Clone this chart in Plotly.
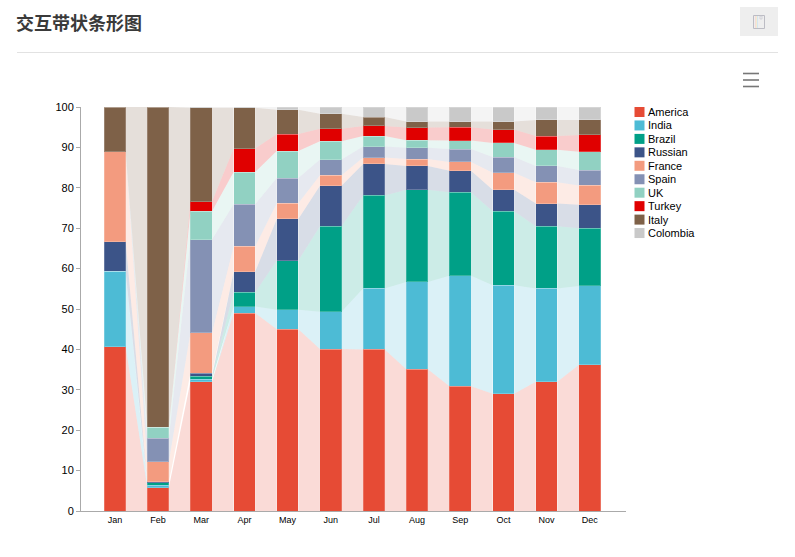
import plotly.graph_objects as go

months = ["Jan","Feb","Mar","Apr","May","Jun","Jul","Aug","Sep","Oct","Nov","Dec"]
america = [40.7,5.8,32.0,49.0,45.0,40.1,40.0,35.1,30.9,29.0,32.0,36.2]
india = [18.6,0.6,0.6,1.6,4.8,9.2,15.1,21.6,27.3,26.9,23.1,19.5]
brazil = [0,0.6,0.8,3.5,12.2,21.2,23.0,22.8,20.7,18.3,15.4,14.3]
russian = [7.4,0.2,0.7,5.1,10.3,10.0,7.8,5.9,5.3,5.3,5.6,5.8]
france = [22.2,5.0,10.0,6.3,3.9,2.6,1.6,1.7,2.2,4.2,5.3,4.8]
spain = [0,5.8,23.1,10.4,6.2,3.9,2.7,2.8,3.2,3.9,4.0,3.8]
uk = [0,2.7,7.0,8.0,6.7,4.5,2.6,1.9,2.1,3.5,4.0,4.5]
turkey = [0,0,2.4,5.8,4.2,3.1,2.5,3.1,3.3,3.3,3.4,4.2]
italy = [11.1,79.3,23.2,10.1,6.0,3.7,2.2,1.5,1.4,2.0,4.0,3.7]
colombia = [0,0,0.2,0.2,0.7,1.7,2.5,3.6,3.6,3.6,3.2,3.2]

names = ["America","India","Brazil","Russian","France","Spain","UK","Turkey","Italy","Colombia"]
series = [america,india,brazil,russian,france,spain,uk,turkey,italy,colombia]
colors = ["#e64b35","#4dbbd5","#00a087","#3c5488","#f39b7f","#8491b4","#91d1c2","#e00000","#7e6148","#c9c9c9"]

W, H = 795, 557
BAR = 0.5
px = lambda x: x / W
py = lambda y: 1 - y / H
FONT = "Liberation Sans"


def rgba(c, a):
    return f"rgba({int(c[1:3],16)},{int(c[3:5],16)},{int(c[5:7],16)},{a})"


fig = go.Figure()
xs = list(range(len(months)))

# bands between neighbouring bars
base = [0.0] * 12
for name, vals, col in zip(names, series, colors):
    top = [b + v for b, v in zip(base, vals)]
    bx, by = [], []
    for i in range(11):
        x0, x1 = i + BAR / 2, i + 1 - BAR / 2
        bx += [x0, x1, x1, x0, x0, None]
        by += [base[i], base[i + 1], top[i + 1], top[i], base[i], None]
    fig.add_trace(go.Scatter(x=bx, y=by, mode="lines", line=dict(width=0), fill="toself",
                             fillcolor=rgba(col, 0.2), showlegend=False, hoverinfo="skip"))
    base = top

for name, vals, col in zip(names, series, colors):
    fig.add_trace(go.Bar(x=xs, y=vals, name=name, width=BAR, showlegend=False,
                         marker=dict(color=col, line=dict(width=1, color="rgba(255,255,255,0.22)"))))

shapes = []
annotations = []


def rect(x0, y0, x1, y1, fill=None, line=None, lw=1):
    shapes.append(dict(type="rect", xref="paper", yref="paper", layer="above",
                       x0=px(x0), x1=px(x1), y0=py(y0), y1=py(y1),
                       fillcolor=fill or "rgba(0,0,0,0)",
                       line=dict(color=line or "rgba(0,0,0,0)", width=lw if line else 0)))


def hline(x0, x1, y, color, lw):
    shapes.append(dict(type="line", xref="paper", yref="paper", layer="above",
                       x0=px(x0), x1=px(x1), y0=py(y), y1=py(y), line=dict(color=color, width=lw)))


# header rule, save button, menu icon
hline(17, 778, 52.5, "#e2e2e2", 1)
rect(740, 7, 778, 36, fill="#eeeeee")
rect(755, 16, 756, 28, fill="#f6dcd8")
rect(756, 16, 757, 28, fill="#f3ecd0")
rect(757, 16, 758, 28, fill="#d4e6f2")
rect(753.5, 15.5, 764.5, 28.5, line="#bcbcc4", lw=1)
rect(760, 16, 762, 19, line="#c4c4cc", lw=0.6)
for y in (73.5, 80, 86.5):
    hline(743, 759, y, "#777777", 1.6)

annotations.append(dict(text="<b>交互带状条形图</b>", xref="paper", yref="paper", x=px(14), y=py(22.5),
                        xanchor="left", yanchor="middle", showarrow=False,
                        font=dict(family="Noto Sans CJK SC", size=18, color="#3a3a3a")))

# legend column
for i, (name, col) in enumerate(zip(names, colors)):
    yc = 112 + i * 13.45
    rect(634.5, yc - 5, 644.5, yc + 5, fill=col)
    annotations.append(dict(text=name, xref="paper", yref="paper", x=px(646), y=py(yc),
                            xanchor="left", yanchor="middle", showarrow=False,
                            font=dict(family=FONT, size=11, color="#000000")))

fig.update_layout(
    width=W, height=H, margin=dict(l=0, r=0, t=0, b=0, autoexpand=False), paper_bgcolor="white", plot_bgcolor="white",
    barmode="stack", showlegend=False, shapes=shapes, annotations=annotations,
    xaxis=dict(domain=[px(81), px(626)], range=[-0.785, 11.84], tickmode="array", tickvals=xs, ticktext=months,
               showgrid=False, zeroline=False, showline=True, linecolor="#aaaaaa", linewidth=1, ticks="",
               tickfont=dict(family=FONT, size=9, color="#000000")),
    yaxis=dict(domain=[py(511), py(107)], range=[0, 100], tickmode="linear", dtick=10,
               showgrid=False, zeroline=False, showline=True, linecolor="#aaaaaa", linewidth=1,
               ticks="outside", ticklen=4, tickcolor="#aaaaaa",
               tickfont=dict(family=FONT, size=11, color="#000000")),
)

fig.write_html("out.html", post_script="document.body.style.margin='0';", config={"displayModeBar": False})
